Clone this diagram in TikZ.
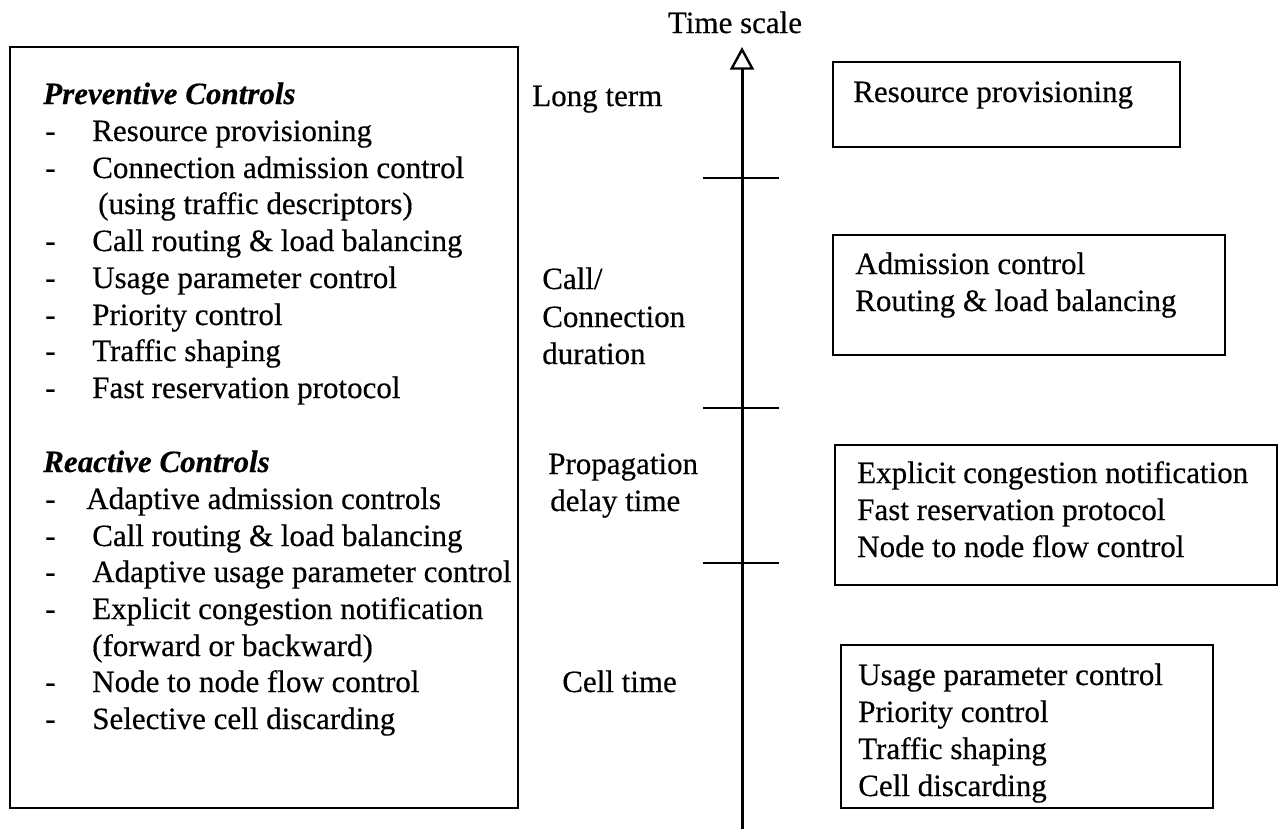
\documentclass[tikz,border=0pt]{standalone}
\usepackage{fontspec}
\setmainfont{Liberation Serif}[FakeBold=0.4]
\usetikzlibrary{arrows.meta}
\begin{document}
\begin{tikzpicture}[x=0.75pt,y=-0.75pt,
  txt/.style={anchor=base west,inner sep=0pt,font=\fontsize{23.25pt}{28pt}\selectfont},
  head/.style={txt,font=\fontsize{23.25pt}{28pt}\selectfont\bfseries\itshape},
  frame/.style={draw,line width=1.5pt},
  tickmark/.style={line width=1.5pt},
  axis/.style={line width=2.25pt,-{Triangle[open,length=17pt,width=18pt,line width=1.8pt]}}]
\useasboundingbox (0,0) rectangle (1279,829);

% ---- time axis ----
\node[anchor=base,inner sep=0pt,font=\fontsize{23.25pt}{28pt}\selectfont] (title) at (735,33) {Time scale};
\coordinate (axbot) at (742,829);
\coordinate (axtop) at (742,47);
\draw[axis] (axbot) -- (axtop);
\coordinate (t1l) at (703,178); \coordinate (t1r) at (779,178);
\coordinate (t2l) at (703,408); \coordinate (t2r) at (779,408);
\coordinate (t3l) at (703,563); \coordinate (t3r) at (779,563);
\draw[tickmark] (t1l) -- (t1r);
\draw[tickmark] (t2l) -- (t2r);
\draw[tickmark] (t3l) -- (t3r);

% ---- left panel: list of controls ----
\coordinate (lb1) at (10,47); \coordinate (lb2) at (518,808);
\draw[frame] (lb1) rectangle (lb2);

\node[head] (prev) at (43,104) {Preventive Controls};
\node[txt] (d1) at (45,141) {-}; \node[txt] (p1) at (92,141) {Resource provisioning};
\node[txt] (d2) at (45,178) {-}; \node[txt] (p2) at (92,178) {Connection admission control};
\node[txt] (p2b) at (98,214) {(using traffic descriptors)};
\node[txt] (d3) at (45,251) {-}; \node[txt] (p3) at (92,251) {Call routing \& load balancing};
\node[txt] (d4) at (45,288) {-}; \node[txt] (p4) at (92,288) {Usage parameter control};
\node[txt] (d5) at (45,325) {-}; \node[txt] (p5) at (92,325) {Priority control};
\node[txt] (d6) at (45,361) {-}; \node[txt] (p6) at (92,361) {Traffic shaping};
\node[txt] (d7) at (45,398) {-}; \node[txt] (p7) at (92,398) {Fast reservation protocol};

\node[head] (reac) at (43,472) {Reactive Controls};
\node[txt] (e1) at (45,509) {-}; \node[txt] (r1) at (86,509) {Adaptive admission controls};
\node[txt] (e2) at (45,546) {-}; \node[txt] (r2) at (92,546) {Call routing \& load balancing};
\node[txt] (e3) at (45,582) {-}; \node[txt] (r3) at (92,582) {Adaptive usage parameter control};
\node[txt] (e4) at (45,619) {-}; \node[txt] (r4) at (92,619) {Explicit congestion notification};
\node[txt] (r4b) at (92,656) {(forward or backward)};
\node[txt] (e5) at (45,692) {-}; \node[txt] (r5) at (92,692) {Node to node flow control};
\node[txt] (e6) at (45,729) {-}; \node[txt] (r6) at (92,729) {Selective cell discarding};

% ---- time-scale labels ----
\node[txt] (lt) at (532,106) {Long term};
\node[txt] (cc1) at (542,289) {Call/};
\node[txt] (cc2) at (542,327) {Connection};
\node[txt] (cc3) at (542,364) {duration};
\node[txt] (pd1) at (548,474) {Propagation};
\node[txt] (pd2) at (550,511) {delay time};
\node[txt] (ct) at (562,692) {Cell time};

% ---- right panel: controls per time scale ----
\coordinate (a1) at (833,62);  \coordinate (a2) at (1180,147);
\draw[frame] (a1) rectangle (a2);
\node[txt] (ra) at (853,102) {Resource provisioning};

\coordinate (b1) at (833,235); \coordinate (b2) at (1225,355);
\draw[frame] (b1) rectangle (b2);
\node[txt] (rb1) at (855,274) {Admission control};
\node[txt] (rb2) at (855,311) {Routing \& load balancing};

\coordinate (c1) at (835,445); \coordinate (c2) at (1277,585);
\draw[frame] (c1) rectangle (c2);
\node[txt] (rc1) at (857,483) {Explicit congestion notification};
\node[txt] (rc2) at (857,520) {Fast reservation protocol};
\node[txt] (rc3) at (857,557) {Node to node flow control};

\coordinate (k1) at (841,645); \coordinate (k2) at (1213,808);
\draw[frame] (k1) rectangle (k2);
\node[txt] (rk1) at (858,685) {Usage parameter control};
\node[txt] (rk2) at (858,722) {Priority control};
\node[txt] (rk3) at (858,759) {Traffic shaping};
\node[txt] (rk4) at (858,796) {Cell discarding};
\end{tikzpicture}
\end{document}
